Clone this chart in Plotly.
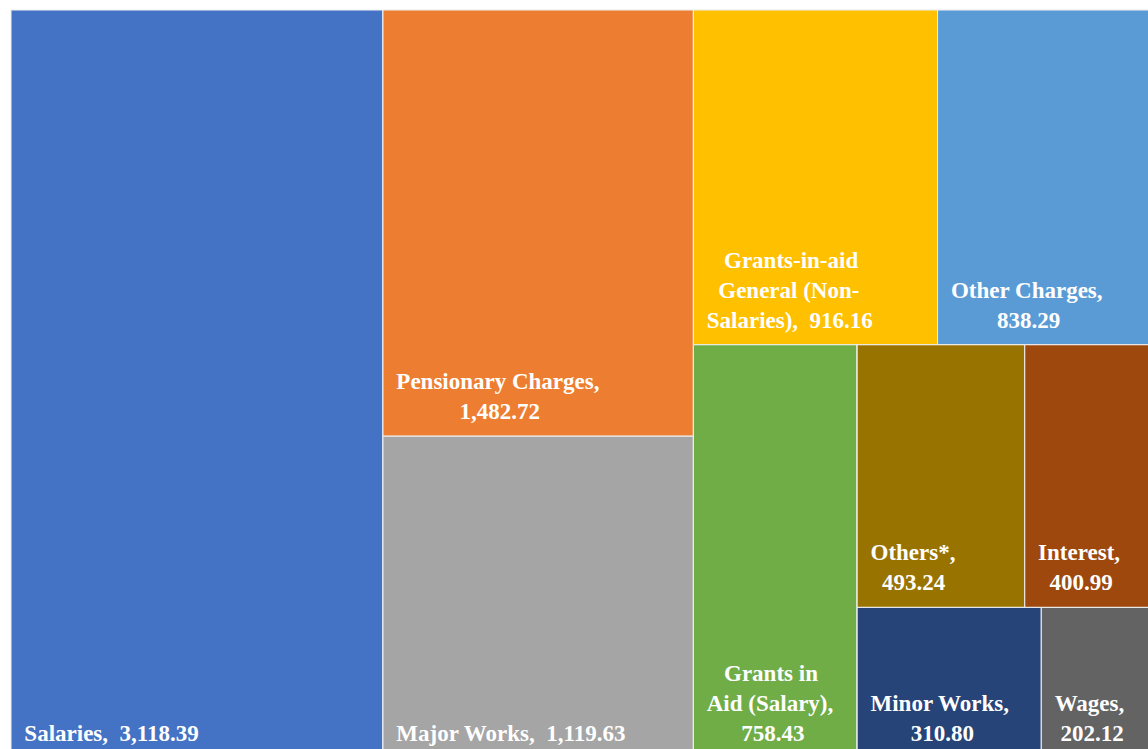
import plotly.graph_objects as go

# ---- data ----
categories = ["Salaries", "Pensionary Charges", "Major Works",
              "Grants-in-aid General (Non-Salaries)", "Other Charges",
              "Grants in Aid (Salary)", "Others*", "Interest",
              "Minor Works", "Wages"]
values = [3118.39, 1482.72, 1119.63, 916.16, 838.29, 758.43,
          493.24, 400.99, 310.80, 202.12]
# how each category name is wrapped in its cell ("|" = line break)
wrapped_names = ["Salaries", "Pensionary Charges", "Major Works",
                 "Grants-in-aid|General (Non-|Salaries)", "Other Charges",
                 "Grants in|Aid (Salary)", "Others*", "Interest",
                 "Minor Works", "Wages"]
value_on_new_line = [False, True, False, False, True, True, True, True, True, True]
colors = ["#4472C4", "#ED7D31", "#A5A5A5", "#FFC000", "#5B9BD5",
          "#70AD47", "#997300", "#9E480E", "#264478", "#636363"]

# grouping used to reproduce the slice/dice arrangement
groups = {"Salaries": "Total", "Pensionary Charges": "G_A", "Major Works": "G_A",
          "Grants-in-aid General (Non-Salaries)": "G_B_top", "Other Charges": "G_B_top",
          "Grants in Aid (Salary)": "G_B_bot", "Others*": "G_C_top", "Interest": "G_C_top",
          "Minor Works": "G_C_bot", "Wages": "G_C_bot"}
group_nodes = [("Total", ""), ("G_A", "Total"), ("G_B", "Total"),
               ("G_B_top", "G_B"), ("G_B_bot", "G_B"), ("G_C", "G_B_bot"),
               ("G_C_top", "G_C"), ("G_C_bot", "G_C")]

# ---- text layout helpers (Times-bold-like widths, em units) ----
W = {' ': .25, '\u00a0': .25, '(': .333, ')': .333, '*': .5, ',': .25, '-': .333, '.': .25,
     'A': .722, 'C': .722, 'G': .778, 'I': .389, 'M': .944, 'N': .722, 'O': .778,
     'P': .611, 'S': .556, 'W': 1.0, 'a': .5, 'c': .444, 'd': .556, 'e': .444,
     'g': .5, 'h': .556, 'i': .278, 'k': .556, 'l': .278, 'n': .556, 'o': .5,
     'r': .444, 's': .389, 't': .333, 'u': .556, 'y': .5}
LEAD = "\u00a0\u2009"                                  # inner left padding
TAIL = "<span style='font-size:64px'>\u00a0</span>"   # inner bottom padding


def width(s):
    return sum(W.get(c, .5) for c in s)


def make_text(wname, val, newline):
    lines = wname.split("|")
    vs = f"{val:,.2f}"
    if newline:
        lines[-1] += ","
        lines.append(vs)
    else:
        lines[-1] += ",\u00a0 " + vs
    mx = max(width(l) for l in lines)
    out = []
    for l in lines:
        n = int(round((mx - width(l)) / 2 / 0.25))
        out.append(LEAD + "\u00a0" * n + l)
    out[-1] += TAIL
    return "<br>".join(out)


ids, labels, parents, vals, texts, cols = [], [], [], [], [], []
for gid, gpar in group_nodes:
    ids.append(gid); labels.append(""); parents.append(gpar)
    vals.append(0); texts.append(""); cols.append("#FFFFFF")
for c, v, wn, nl, col in zip(categories, values, wrapped_names, value_on_new_line, colors):
    ids.append(c); labels.append(c); parents.append(groups[c]); vals.append(v)
    texts.append(make_text(wn, v, nl)); cols.append(col)

# order nodes so Salaries precedes groups G_A and G_B under Total
rank = {"Total": 0, "Salaries": 1, "G_A": 2, "Pensionary Charges": 3, "Major Works": 4,
        "G_B": 5, "G_B_top": 6, "Grants-in-aid General (Non-Salaries)": 7, "Other Charges": 8,
        "G_B_bot": 9, "Grants in Aid (Salary)": 10, "G_C": 11, "G_C_top": 12,
        "Others*": 13, "Interest": 14, "G_C_bot": 15, "Minor Works": 16, "Wages": 17}
idx = sorted(range(len(ids)), key=lambda i: rank[ids[i]])
ids = [ids[i] for i in idx]; labels = [labels[i] for i in idx]
parents = [parents[i] for i in idx]; vals = [vals[i] for i in idx]
texts = [texts[i] for i in idx]; cols = [cols[i] for i in idx]

tfont = dict(family="Liberation Serif", size=23, color="#FFFFFF", weight="bold")
fig = go.Figure(go.Treemap(
    ids=ids, labels=labels, parents=parents, values=vals,
    branchvalues="remainder", sort=False,
    text=texts, textinfo="text", textposition="bottom left",
    textfont=tfont, insidetextfont=tfont, outsidetextfont=tfont,
    marker=dict(colors=cols, line=dict(color="#F2F2F2", width=1),
                pad=dict(t=0, l=0, r=0, b=0)),
    tiling=dict(packing="slice-dice", pad=0),
    pathbar=dict(visible=False),
    hoverinfo="label+value",
))
# the source chart is cropped on its right and bottom edges
fig.update_layout(width=1161, height=758, margin=dict(l=11, t=10, r=0, b=0),
                  paper_bgcolor="#FFFFFF",
                  font=dict(family="Liberation Serif"))
fig.write_html("out.html",
               post_script="document.documentElement.style.overflow='hidden';"
                           "document.body.style.overflow='hidden';")
